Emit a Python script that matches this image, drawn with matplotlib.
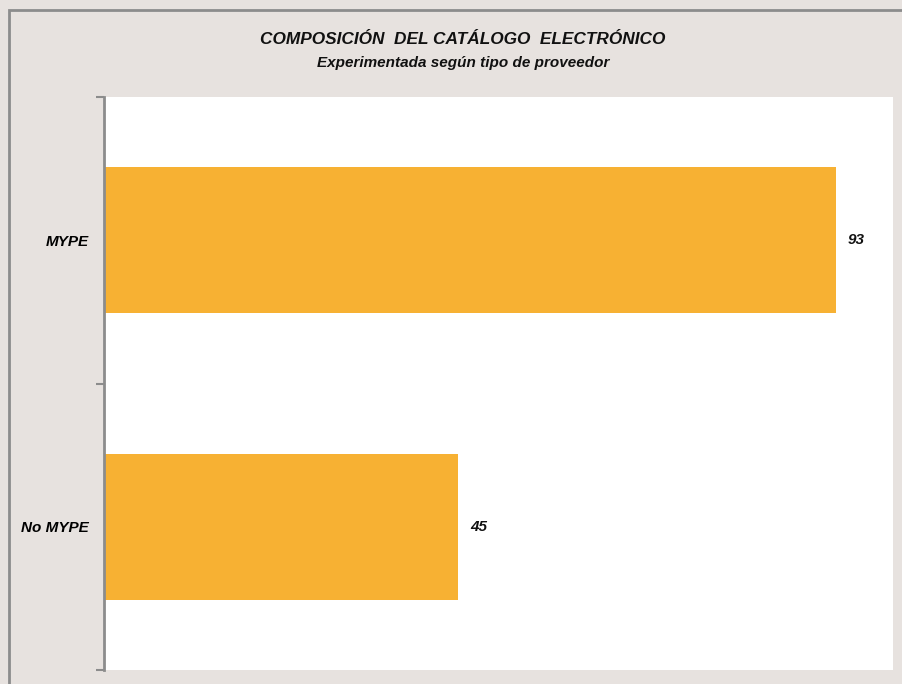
import matplotlib
matplotlib.use("Agg")
import matplotlib.pyplot as plt
from matplotlib.patches import Rectangle

categories = ["No MYPE", "MYPE"]
values = [45, 93]

title = "COMPOSICIÓN  DEL CATÁLOGO  ELECTRÓNICO"
subtitle = "Experimentada según tipo de proveedor"

bg = "#E7E2DF"
bar_color = "#F7B133"
axis_gray = "#8C8C8C"
font = "Liberation Sans"

W, H = 902, 684
fig = plt.figure(figsize=(W / 100, H / 100), dpi=100, facecolor=bg)

# outer frame (cropped on right/bottom in the reference)
fig.patches.append(Rectangle((9 / W, -0.1), 1.2, 1 - 10 / H + 0.1, transform=fig.transFigure,
                             fill=False, edgecolor=axis_gray, linewidth=2, zorder=0))

ax = fig.add_axes([104 / W, 1 - 670 / H, (893 - 104) / W, (670 - 97) / H])
ax.set_facecolor("white")

y = list(range(len(categories)))
bars = ax.barh(y, values, height=0.51, color=bar_color, edgecolor="none")

ax.set_xlim(0, 100.2)
ax.set_ylim(-0.5, len(categories) - 0.5)

for b, v in zip(bars, values):
    ax.text(b.get_width() + 1.5, b.get_y() + b.get_height() / 2, str(v),
            va="center", ha="left", fontsize=11, fontweight="bold", fontstyle="italic",
            family=font, color="#111111")

ax.set_yticks(y)
ax.set_yticklabels(categories, fontsize=11, fontweight="bold", fontstyle="italic", family=font)
ax.tick_params(axis="y", which="major", length=0, pad=11)
ax.set_yticks([-0.5, 0.5, 1.5], minor=True)
ax.tick_params(axis="y", which="minor", length=6, width=1.5, color=axis_gray, direction="out")
ax.set_xticks([])

for s in ["top", "right", "bottom"]:
    ax.spines[s].set_visible(False)
ax.spines["left"].set_color(axis_gray)
ax.spines["left"].set_linewidth(2)

fig.text(463 / W, 1 - 40 / H, title, ha="center", va="center", fontsize=12.4,
         fontweight="bold", fontstyle="italic", family=font, color="#111111")
fig.text(463 / W, 1 - 63 / H, subtitle, ha="center", va="center", fontsize=11,
         fontweight="bold", fontstyle="italic", family=font, color="#111111")

fig.savefig("out.png", dpi=100, facecolor=bg)
